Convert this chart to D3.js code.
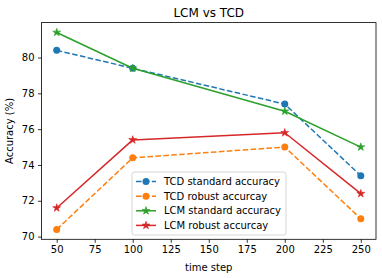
<!DOCTYPE html>
<html>
<head>
<meta charset="utf-8">
<script src="https://cdn.jsdelivr.net/npm/d3@7"></script>
<style>
  body { margin: 0; background: #fff; }
  svg { font-family: "DejaVu Sans", sans-serif; }
</style>
</head>
<body>
<div id="chart"></div>
<script>
const timeSteps = [50, 100, 200, 250];
const tcdStandard = [80.4, 79.4, 77.4, 73.4];
const tcdRobust = [70.4, 74.4, 75.0, 71.0];
const lcmStandard = [81.4, 79.4, 77.0, 75.0];
const lcmRobust = [71.6, 75.4, 75.8, 72.4];
const xTicks = [50, 75, 100, 125, 150, 175, 200, 225, 250];
const yTicks = [70, 72, 74, 76, 78, 80];

const series = [
  { name: "TCD standard accuracy", values: tcdStandard, color: "#1f77b4", dash: "5.55,2.4", marker: "circle" },
  { name: "TCD robust accurcay", values: tcdRobust, color: "#ff7f0e", dash: "5.55,2.4", marker: "circle" },
  { name: "LCM standard accuracy", values: lcmStandard, color: "#2ca02c", dash: null, marker: "star" },
  { name: "LCM robust accurcay", values: lcmRobust, color: "#d62728", dash: null, marker: "star" }
];

const width = 382, height = 278;
const margin = { left: 41.5, right: 6, top: 22.6, bottom: 38.7 };

const svg = d3.select("#chart").append("svg")
  .attr("width", width)
  .attr("height", height);

const x = d3.scaleLinear().domain([40, 260]).range([margin.left, width - margin.right]);
const y = d3.scaleLinear().domain([69.85, 81.95]).range([height - margin.bottom, margin.top]);

// star path like matplotlib '*'
function starPath(r) {
  const inner = r * 0.381966;
  const pts = [];
  for (let i = 0; i < 10; i++) {
    const a = -Math.PI / 2 + i * Math.PI / 5;
    const rr = i % 2 === 0 ? r : inner;
    pts.push([rr * Math.cos(a), rr * Math.sin(a)]);
  }
  return "M" + pts.map(p => p[0].toFixed(2) + "," + p[1].toFixed(2)).join("L") + "Z";
}

function drawMarker(sel, s, cx, cy) {
  if (s.marker === "circle") {
    sel.append("circle").attr("cx", cx).attr("cy", cy).attr("r", 3.5).attr("fill", s.color);
  } else {
    sel.append("path").attr("d", starPath(4.2)).attr("transform", `translate(${cx},${cy})`)
      .attr("fill", s.color).attr("stroke", s.color).attr("stroke-width", 0.6).attr("stroke-linejoin", "round");
  }
}

// axes
const xAxis = svg.append("g")
  .attr("transform", `translate(0,${height - margin.bottom})`)
  .call(d3.axisBottom(x).tickValues(xTicks).tickSize(3.5).tickPadding(3.5));
const yAxis = svg.append("g")
  .attr("transform", `translate(${margin.left},0)`)
  .call(d3.axisLeft(y).tickValues(yTicks).tickSize(3.5).tickPadding(3.5));
[xAxis, yAxis].forEach(a => {
  a.select(".domain").remove();
  a.selectAll("line").attr("stroke", "#000").attr("stroke-width", 0.8);
  a.selectAll("text").attr("font-size", 10).attr("fill", "#000").attr("font-family", "DejaVu Sans");
});

// lines + markers
const line = d3.line().x((d, i) => x(timeSteps[i])).y(d => y(d));
series.forEach(s => {
  const g = svg.append("g");
  g.append("path")
    .attr("d", line(s.values))
    .attr("fill", "none")
    .attr("stroke", s.color)
    .attr("stroke-width", 1.5)
    .attr("stroke-dasharray", s.dash)
    .attr("stroke-linejoin", "round");
  s.values.forEach((v, i) => drawMarker(g, s, x(timeSteps[i]), y(v)));
});

// frame
svg.append("rect")
  .attr("x", margin.left).attr("y", margin.top)
  .attr("width", width - margin.left - margin.right)
  .attr("height", height - margin.top - margin.bottom)
  .attr("fill", "none").attr("stroke", "#000").attr("stroke-width", 0.8);

// title and labels
svg.append("text").attr("x", (margin.left + width - margin.right) / 2).attr("y", 17)
  .attr("text-anchor", "middle").attr("font-size", 12).text("LCM vs TCD");
svg.append("text").attr("x", (margin.left + width - margin.right) / 2).attr("y", 271)
  .attr("text-anchor", "middle").attr("font-size", 10).text("time step");
svg.append("text")
  .attr("transform", `translate(13,${(margin.top + height - margin.bottom) / 2}) rotate(-90)`)
  .attr("text-anchor", "middle").attr("font-size", 10).text("Accuracy (%)");

// legend
const leg = svg.append("g").attr("transform", "translate(132,172)");
leg.append("rect").attr("x", 0).attr("y", 0).attr("width", 154).attr("height", 63)
  .attr("rx", 2.5).attr("fill", "#fff").attr("fill-opacity", 0.8)
  .attr("stroke", "#cccccc").attr("stroke-width", 0.8);
series.forEach((s, i) => {
  const ly = 9.6 + i * 14.6;
  const row = leg.append("g");
  row.append("line").attr("x1", 4).attr("x2", 24).attr("y1", ly).attr("y2", ly)
    .attr("stroke", s.color).attr("stroke-width", 1.5).attr("stroke-dasharray", s.dash);
  drawMarker(row, s, 14, ly);
  row.append("text").attr("x", 32).attr("y", ly + 3.6).attr("font-size", 10).text(s.name);
});
</script>
</body>
</html>
